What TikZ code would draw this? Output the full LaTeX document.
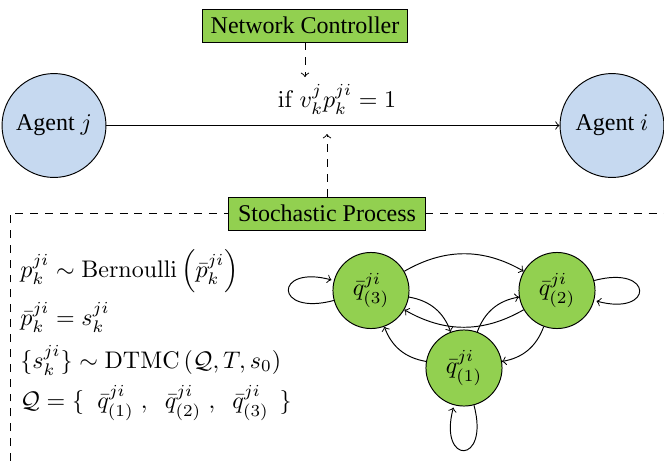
\documentclass[tikz,border=0pt]{standalone}
\usepackage[no-math]{fontspec}
\setmainfont{Liberation Serif}
\definecolor{boxgreen}{RGB}{146,208,80}
\definecolor{agentblue}{RGB}{198,217,240}
\begin{document}
\begin{tikzpicture}[x=0.416667pt,y=-0.416667pt,
  agent/.style={circle, draw, fill=agentblue, minimum size=43.3pt, inner sep=0pt},
  greenbox/.style={draw, fill=boxgreen, minimum height=13.75pt, inner sep=2pt},
  state/.style={circle, draw, fill=boxgreen, minimum size=31.7pt, inner sep=0pt},
  dashedline/.style={dash pattern=on 3.3pt off 2.9pt},
  trans/.style={->, bend left=30},
  mathline/.style={anchor=base west, inner sep=0pt},
]
\useasboundingbox (0,0) rectangle (664,461);
% top part
\node[greenbox, minimum width=85.8pt] (nc) at (305,25.5) {Network Controller};
\node[agent] (aj) at (54,125.5) {Agent $j$};
\node[agent] (ai) at (612,125.5) {Agent $i$};
\draw[->] (aj) -- (ai);
\node[anchor=base, inner sep=0pt] (cond) at (337,107) {$\mathrm{if}\ v_k^j p_k^{ji} = 1$};
\coordinate (ctop) at (305,77);
\draw[->, dashedline] (nc) -- (ctop);
% stochastic process
\node[greenbox, minimum width=81.7pt] (sp) at (327,213.5) {Stochastic Process};
\coordinate (lineup) at (327,134);
\draw[->, dashedline] (sp) -- (lineup);
\coordinate (dl) at (10,213.5);
\coordinate (dlb) at (10,461);
\coordinate (dr) at (664,213.5);
\draw[dashedline] (dlb) -- (dl) -- (sp.west);
\draw[dashedline] (sp.east) -- (dr);
% equations
\node[mathline] (l1) at (20,277) {$p_k^{ji} \sim \mathrm{Bernoulli}\left(\bar{p}_k^{ji}\right)$};
\node[mathline] (l2) at (20,325) {$\bar{p}_k^{ji} = s_k^{ji}$};
\node[mathline] (l3) at (20,368) {$\{s_k^{ji}\} \sim \mathrm{DTMC}\left(\mathcal{Q}, T, s_0\right)$};
\node[mathline] (l4) at (20,408) {$\mathcal{Q} = \{\hspace{5.5pt}\bar{q}_{(1)}^{ji}\hspace{3pt},\hspace{5.5pt}\bar{q}_{(2)}^{ji}\hspace{3pt},\hspace{5.5pt}\bar{q}_{(3)}^{ji}\hspace{4.5pt}\}$};
% Markov chain
\node[state] (q3) at (371,290.5) {$\bar{q}_{(3)}^{ji}$};
\node[state] (q2) at (557,290.5) {$\bar{q}_{(2)}^{ji}$};
\node[state] (q1) at (464,368) {$\bar{q}_{(1)}^{ji}$};
\draw[trans] (q3) to (q2);
\draw[trans] (q2) to (q3);
\draw[trans] (q3) to (q1);
\draw[trans] (q1) to (q3);
\draw[trans] (q1) to (q2);
\draw[trans] (q2) to (q1);
\path[->] (q3) edge[loop left] (q3);
\path[->] (q2) edge[loop right] (q2);
\path[->] (q1) edge[loop below] (q1);
\end{tikzpicture}
\end{document}
